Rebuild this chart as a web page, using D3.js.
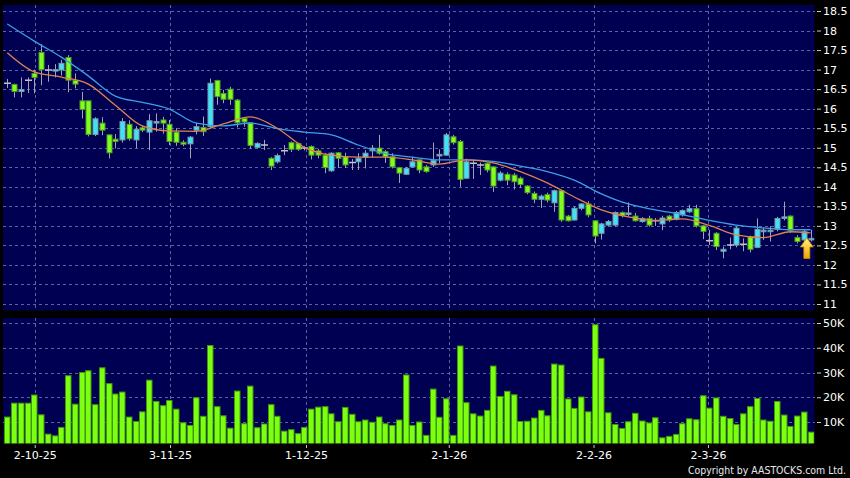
<!DOCTYPE html>
<html>
<head>
<meta charset="utf-8">
<script src="https://cdn.jsdelivr.net/npm/d3@7"></script>
<style>
	html, body { margin:0; padding:0; background:#000; }
	svg { display:block; font-family:"DejaVu Sans", sans-serif; }
</style>
</head>
<body>
<div id="container"></div>
<script>
	// daily candles, left to right
	var opens = [16.65,16.62,16.44,16.73,16.90,17.44,16.99,16.99,16.99,17.31,
		16.72,16.20,16.20,15.34,15.63,15.33,15.22,15.20,15.60,15.20,
		15.51,15.40,15.66,15.71,15.60,15.40,15.14,15.10,15.45,15.52,
		15.54,16.72,16.39,16.50,16.22,15.75,15.64,15.01,15.07,14.73,
		14.64,14.92,15.13,15.11,14.99,15.03,14.92,14.81,14.41,14.87,
		14.77,14.62,14.64,14.76,14.92,14.99,14.90,14.77,14.49,14.32,
		14.51,14.69,14.51,14.56,14.79,14.81,15.28,15.16,14.22,14.60,
		14.56,14.60,14.51,14.17,14.32,14.30,14.22,14.02,13.83,13.68,
		13.80,13.59,13.90,13.25,13.15,13.45,13.56,13.13,12.81,13.02,
		13.02,13.34,13.30,13.25,13.11,13.19,13.13,13.05,13.25,13.17,
		13.28,13.36,13.44,13.00,12.62,12.81,12.35,12.51,12.51,12.53,
		12.72,12.45,12.85,12.86,12.91,13.19,13.25,12.70,12.64,12.64];
	var highs = [16.76,16.64,16.80,16.80,17.00,17.65,17.12,17.14,17.25,17.37,
		16.90,16.43,16.20,15.78,15.78,15.33,15.35,15.76,15.70,15.55,
		15.56,15.86,15.88,15.79,15.71,15.50,15.19,15.30,15.64,15.80,
		16.77,16.74,16.48,16.56,16.25,15.77,15.64,15.14,15.20,14.76,
		14.85,15.07,15.16,15.13,15.04,15.06,14.97,14.86,14.88,14.89,
		14.87,14.71,14.86,14.94,15.07,15.33,14.94,14.86,14.51,14.51,
		14.77,14.70,14.56,15.13,14.96,15.38,15.33,15.20,14.72,14.69,
		14.62,14.62,14.53,14.40,14.37,14.35,14.26,14.04,13.88,13.80,
		13.85,13.93,13.92,13.28,13.50,13.58,13.63,13.15,13.08,13.15,
		13.37,13.37,13.60,13.33,13.22,13.26,13.20,13.26,13.28,13.38,
		13.42,13.54,13.54,13.02,12.90,12.84,12.47,12.70,12.98,12.68,
		12.75,13.19,12.95,12.99,13.23,13.62,13.27,12.76,12.90,12.90];
	var lows = [16.53,16.29,16.29,16.40,16.39,16.60,16.69,16.80,16.85,16.42,
		16.52,15.75,15.29,15.30,15.32,14.73,14.98,15.13,15.18,14.99,
		15.40,14.94,15.41,15.36,15.07,15.05,15.04,14.73,15.34,15.30,
		15.49,16.10,16.14,16.10,15.52,15.54,14.98,14.98,14.94,14.43,
		14.60,14.81,14.89,14.92,14.93,14.70,14.73,14.35,14.38,14.48,
		14.48,14.43,14.43,14.47,14.74,14.82,14.61,14.47,14.10,14.30,
		14.49,14.35,14.36,14.51,14.60,14.79,15.08,14.00,14.20,14.20,
		14.30,14.37,13.87,14.14,14.04,13.93,13.98,13.81,13.58,13.46,
		13.60,13.36,13.10,13.11,13.13,13.40,13.22,12.55,12.65,12.98,
		12.98,13.22,13.25,13.11,13.08,12.98,13.00,12.89,13.10,13.14,
		13.24,13.33,12.96,12.66,12.51,12.38,12.17,12.40,12.45,12.35,
		12.32,12.43,12.64,12.60,12.86,13.14,12.82,12.55,12.55,12.60];
	var closes = [16.65,16.44,16.49,16.73,16.80,17.00,16.99,17.00,17.16,16.73,
		16.63,15.98,15.34,15.74,15.45,14.87,15.16,15.67,15.23,15.47,
		15.45,15.69,15.67,15.63,15.16,15.14,15.09,15.27,15.54,15.41,
		16.65,16.31,16.24,16.24,15.64,15.66,15.06,15.11,15.07,14.53,
		14.80,14.92,14.96,14.96,14.99,14.81,14.81,14.49,14.86,14.73,
		14.56,14.62,14.73,14.86,14.99,14.86,14.77,14.51,14.35,14.47,
		14.64,14.43,14.39,14.67,14.83,15.33,15.13,14.19,14.64,14.60,
		14.56,14.43,14.02,14.35,14.17,14.13,14.06,13.85,13.68,13.76,
		13.66,13.90,13.15,13.13,13.45,13.56,13.28,12.74,13.05,13.11,
		13.34,13.27,13.33,13.13,13.19,13.02,13.13,13.20,13.15,13.34,
		13.39,13.44,13.00,12.86,12.62,12.47,12.40,12.51,12.94,12.53,
		12.40,12.91,12.89,12.89,13.19,13.23,12.89,12.60,12.85,12.68];
	// volume in thousands of shares
	var volumes = [12.0,17.6,17.6,17.6,20.9,12.9,5.1,4.4,7.8,28.7,
		17.2,30.0,30.7,17.0,31.9,25.5,21.3,22.1,12.0,10.2,
		14.1,26.9,18.3,16.6,18.7,15.2,9.7,8.6,19.8,12.3,
		40.9,16.2,12.5,7.5,22.5,9.3,24.5,7.7,9.2,17.0,
		12.3,6.3,6.9,5.3,7.8,15.2,16.0,16.2,13.3,10.1,
		15.9,13.1,10.1,10.8,9.9,12.0,9.3,8.6,10.8,29.0,
		8.6,10.0,4.6,23.3,11.9,19.4,4.6,40.7,17.8,13.3,
		12.4,14.7,32.6,20.3,22.4,21.0,10.2,10.3,11.6,14.7,
		12.5,33.4,33.0,19.3,15.5,20.1,14.1,49.3,35.7,13.7,
		9.0,7.4,10.1,13.5,10.4,9.6,11.7,3.6,4.2,5.0,
		9.3,11.3,10.9,20.6,15.6,19.7,12.3,11.4,9.0,13.3,
		16.2,19.5,10.8,10.3,18.3,12.8,8.2,12.4,14.0,5.9];

	// moving averages, read at every 4th candle
	var maIdx = [0,4,8,12,16,20,24,28,32,36,40,44,48,52,56,60,64,68,72,76,80,84,88,92,96,100,104,108,112,116,119];
	var maShort = [17.43,16.94,16.81,16.63,16.09,15.56,15.43,15.42,15.61,15.79,15.50,15.01,14.81,14.76,14.76,14.69,
		14.58,14.69,14.61,14.39,14.10,13.74,13.41,13.23,13.14,13.18,13.01,12.77,12.70,12.85,12.82];
	var maLong = [18.17,17.73,17.32,16.84,16.32,16.16,15.99,15.63,15.56,15.63,15.49,15.40,15.33,15.07,14.85,14.76,
		14.69,14.69,14.65,14.53,14.39,14.17,13.82,13.56,13.41,13.29,13.14,13.02,12.95,12.90,12.90];

	var tickIdx = [4.06, 24.1, 44.25, 65.4, 86.85, 103.8];
	var tickLabels = ['2-10-25', '3-11-25', '1-12-25', '2-1-26', '2-2-26', '2-3-26'];
	var priceTicks = [11,11.5,12,12.5,13,13.5,14,14.5,15,15.5,16,16.5,17,17.5,18,18.5];
	var volTicks = [10,20,30,40,50];

	var WIDTH = 850;
	var HEIGHT = 478;
	var LEFT = 3, RIGHT = 814.5;
	var GREEN = '#80ff1e', CYAN = '#3fe2f7';

	var svg = d3.select('#container')
		.append('svg')
		.attr('width', WIDTH)
		.attr('height', HEIGHT);

	var x = d3.scaleLinear().domain([0, opens.length - 1]).range([7.3, 810.55]);
	var y = d3.scaleLinear().domain([11, 18.5]).range([304, 11]);
	var yv = d3.scaleLinear().domain([0, 50]).range([446.75, 323]);

	var PRICE_TOP = 5, PRICE_BOT = 310.5;
	var VOL_TOP = 318, VOL_BOT = 443.5;

	// panels
	svg.append('rect').attr('x', LEFT).attr('y', PRICE_TOP)
		.attr('width', RIGHT - LEFT).attr('height', PRICE_BOT - PRICE_TOP).style('fill', '#000052');
	svg.append('rect').attr('x', LEFT).attr('y', VOL_TOP)
		.attr('width', RIGHT - LEFT).attr('height', VOL_BOT - VOL_TOP).style('fill', '#000052');

	var defs = svg.append('defs');
	defs.append('clipPath').attr('id', 'clipP').append('rect')
		.attr('x', LEFT).attr('y', PRICE_TOP).attr('width', RIGHT - LEFT).attr('height', PRICE_BOT - PRICE_TOP);
	defs.append('clipPath').attr('id', 'clipV').append('rect')
		.attr('x', LEFT).attr('y', VOL_TOP).attr('width', RIGHT - LEFT).attr('height', VOL_BOT - VOL_TOP);

	// grid
	var grid = svg.append('g')
		.style('stroke', '#5a64a0')
		.style('stroke-dasharray', '3,3')
		.style('stroke-width', 1)
		.attr('shape-rendering', 'crispEdges');
	grid.selectAll('.hp').data(priceTicks).enter().append('line')
		.attr('x1', LEFT).attr('x2', RIGHT)
		.attr('y1', function(d){ return Math.round(y(d)) + 0.5; })
		.attr('y2', function(d){ return Math.round(y(d)) + 0.5; });
	grid.selectAll('.hv').data(volTicks).enter().append('line')
		.attr('x1', LEFT).attr('x2', RIGHT)
		.attr('y1', function(d){ return Math.round(yv(d)) + 0.5; })
		.attr('y2', function(d){ return Math.round(yv(d)) + 0.5; });
	grid.selectAll('.vp').data(tickIdx).enter().append('line')
		.attr('x1', function(d){ return Math.round(x(d)) + 0.5; })
		.attr('x2', function(d){ return Math.round(x(d)) + 0.5; })
		.attr('y1', PRICE_TOP).attr('y2', PRICE_BOT);
	grid.selectAll('.vv').data(tickIdx).enter().append('line')
		.attr('x1', function(d){ return Math.round(x(d)) + 0.5; })
		.attr('x2', function(d){ return Math.round(x(d)) + 0.5; })
		.attr('y1', VOL_TOP).attr('y2', VOL_BOT);

	// candles
	var candles = svg.append('g').attr('clip-path', 'url(#clipP)');
	var idx = d3.range(opens.length);

	candles.selectAll('line.wick').data(idx).enter().append('line')
		.attr('class', 'wick')
		.attr('x1', function(i){ return Math.round(x(i)) + 0.5; })
		.attr('x2', function(i){ return Math.round(x(i)) + 0.5; })
		.attr('y1', function(i){ return y(highs[i]); })
		.attr('y2', function(i){ return y(lows[i]); })
		.style('stroke', '#a3a3ad')
		.style('stroke-width', 1);

	candles.selectAll('rect.body').data(idx.filter(function(i){ return opens[i] != closes[i]; }))
		.enter().append('rect')
		.attr('class', 'body')
		.attr('x', function(i){ return Math.round(x(i)) - 2; })
		.attr('width', 5)
		.attr('y', function(i){ return y(Math.max(opens[i], closes[i])); })
		.attr('height', function(i){ return Math.max(1.5, Math.abs(y(opens[i]) - y(closes[i]))); })
		.style('fill', function(i){ return closes[i] > opens[i] ? CYAN : GREEN; })
		.style('stroke', function(i){ return closes[i] > opens[i] ? '#7c97a8' : '#4f9a26'; })
		.style('stroke-width', 1);

	// dojis are drawn as a flat grey bar
	candles.selectAll('line.doji').data(idx.filter(function(i){ return opens[i] == closes[i]; }))
		.enter().append('line')
		.attr('class', 'doji')
		.attr('x1', function(i){ return Math.round(x(i)) - 3; })
		.attr('x2', function(i){ return Math.round(x(i)) + 4; })
		.attr('y1', function(i){ return y(closes[i]); })
		.attr('y2', function(i){ return y(closes[i]); })
		.style('stroke', '#c0c0c8')
		.style('stroke-width', 1.5);

	// moving averages
	var line = d3.line()
		.x(function(d){ return x(d[0]); })
		.y(function(d){ return y(d[1]); })
		.curve(d3.curveMonotoneX);
	candles.append('path')
		.datum(maIdx.map(function(d, i){ return [d, maLong[i]]; }))
		.attr('d', line)
		.style('fill', 'none').style('stroke', '#3a9fe6').style('stroke-width', 1.3);
	candles.append('path')
		.datum(maIdx.map(function(d, i){ return [d, maShort[i]]; }))
		.attr('d', line)
		.style('fill', 'none').style('stroke', '#e0824f').style('stroke-width', 1.3);

	// latest-price arrow
	var ax = x(118.45), ay = y(12.69);
	var grad = defs.append('linearGradient').attr('id', 'arrowGrad')
		.attr('x1', 0).attr('x2', 0).attr('y1', 0).attr('y2', 1);
	grad.append('stop').attr('offset', '0%').attr('stop-color', '#fff27a');
	grad.append('stop').attr('offset', '100%').attr('stop-color', '#f0a400');
	svg.append('path')
		.attr('d', 'M' + ax + ',' + ay + ' l6.5,9 h-3.5 v11.5 h-6 v-11.5 h-3.5 z')
		.style('fill', 'url(#arrowGrad)')
		.style('stroke', '#d08a00')
		.style('stroke-width', 0.8);

	// volume bars
	svg.append('g').attr('clip-path', 'url(#clipV)')
		.selectAll('rect').data(volumes).enter().append('rect')
		.attr('x', function(d, i){ return Math.round(x(i)) - 2.5; })
		.attr('width', 5.5)
		.attr('y', function(d){ return yv(d); })
		.attr('height', function(d){ return VOL_BOT - yv(d); })
		.style('fill', '#7dff12')
		.style('stroke', '#3f9a0a')
		.style('stroke-width', 1);

	// axes
	var priceAxis = svg.append('g')
		.attr('transform', 'translate(817,0)')
		.call(d3.axisRight(y).tickValues(priceTicks).tickSize(4).tickPadding(2).tickFormat(d3.format('')));
	var volAxis = svg.append('g')
		.attr('transform', 'translate(817,0)')
		.call(d3.axisRight(yv).tickValues(volTicks).tickSize(4).tickPadding(2)
			.tickFormat(function(d){ return d + 'K'; }));
	var dateAxis = svg.append('g')
		.attr('transform', 'translate(0,445)')
		.call(d3.axisBottom(x).tickValues(tickIdx).tickSize(3).tickPadding(3)
			.tickFormat(function(d, i){ return tickLabels[i]; }));

	[priceAxis, volAxis, dateAxis].forEach(function(a){
		a.select('.domain').remove();
		a.selectAll('line').style('stroke', '#cccccc');
		a.selectAll('text')
			.style('fill', '#ffffff')
			.style('font-family', '"DejaVu Sans", sans-serif')
			.style('font-size', '11px');
	});

	// squeezed to the narrow width of the original footer
	svg.append('text')
		.attr('x', 846).attr('y', 473.5)
		.attr('text-anchor', 'end')
		.attr('textLength', 158)
		.attr('lengthAdjust', 'spacingAndGlyphs')
		.style('fill', '#e8e8e8')
		.style('font-family', '"Liberation Sans Narrow", "DejaVu Sans Condensed", sans-serif')
		.style('font-size', '10.5px')
		.text('Copyright by AASTOCKS.com Ltd.');
</script>
</body>
</html>
